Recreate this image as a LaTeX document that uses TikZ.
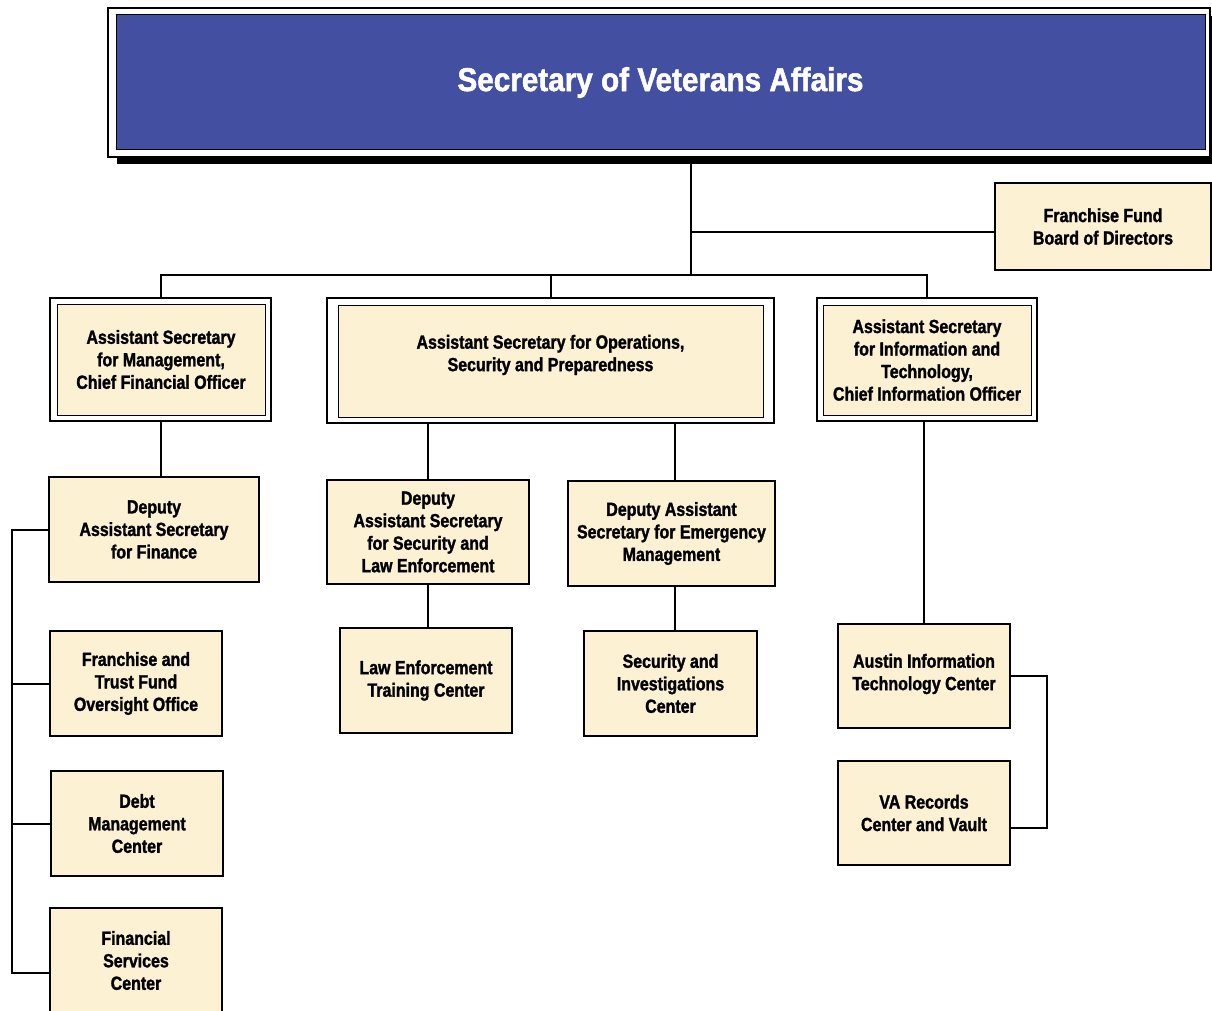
\documentclass[tikz,border=0pt]{standalone}
\usepackage{fontspec}
\setmainfont{Liberation Sans}[FakeStretch=0.84,BoldFeatures={FakeBold=1.5}]
\newfontfamily\titlefont{Liberation Sans}[FakeStretch=0.9,BoldFeatures={FakeBold=1.5}]
\definecolor{vablue}{HTML}{434FA0}
\definecolor{vacream}{HTML}{FDF1D4}
\begin{document}
\begin{tikzpicture}[x=1pt,y=-1pt,
every node/.style={%
line width=1.5pt,
draw,
anchor=center,
inner sep=0pt,
align=center,
font=\fontsize{19}{22.5}\selectfont\bfseries,
},
unit/.style={fill=vacream,minimum height=105pt},
outer/.style={fill=white},
inner/.style={fill=vacream,line width=1pt},
conn/.style={line width=2pt}
]
\useasboundingbox(0,0)rectangle(1212,1011);
\fill(117,16)rectangle(1220,164);
\node[outer,minimum width=1102pt,minimum height=149pt]at(659,82.5)(sec){};
\node[fill=vablue,line width=1pt,minimum width=1089pt,minimum height=135pt,text=white,font=\titlefont\fontsize{33}{36}\selectfont\bfseries]at(660.5,82.5)(sect){Secretary of Veterans Affairs};
\node[unit,minimum width=216pt,minimum height=87pt]at(1103,226.5)(ffb){Franchise Fund\\Board of Directors};
\node[outer,minimum width=221pt,minimum height=123pt]at(160.5,359.5)(asm){};
\node[inner,minimum width=208pt,minimum height=111pt]at(161,359.5)(asmt){Assistant Secretary\\for Management,\\Chief Financial Officer};
\node[outer,line width=2.5pt,minimum width=447pt,minimum height=125pt]at(550.5,360.5)(aso){};
\node[inner,minimum width=425pt,minimum height=112pt]at(550.5,361)(asot){Assistant Secretary for Operations,\\Security and Preparedness\\[-6.5pt]};
\node[outer,minimum width=220pt,minimum height=123pt]at(927,359.5)(asit){};
\node[inner,minimum width=208pt,minimum height=110pt]at(927,360)(asitt){Assistant Secretary\\for Information and\\Technology,\\Chief Information Officer};
\node[unit,minimum width=210pt]at(154,529.5)(dfin){Deputy\\Assistant Secretary\\for Finance};
\node[unit,minimum width=172pt]at(136,683.5)(ftf){Franchise and\\Trust Fund\\Oversight Office};
\node[unit,minimum width=172pt]at(137,823.5)(dmc){Debt\\Management\\Center};
\node[unit,minimum width=172pt]at(136,960.5)(fsc){Financial\\Services\\Center};
\node[unit,minimum width=202pt,minimum height=104pt]at(428,532)(dsle){Deputy\\Assistant Secretary\\for Security and\\Law Enforcement};
\node[unit,minimum width=207pt]at(671.5,533.5)(dem){Deputy Assistant\\Secretary for Emergency\\Management};
\node[unit,minimum width=172pt]at(426,680.5)(letc){Law Enforcement\\Training Center};
\node[unit,minimum width=173pt]at(670.5,683.5)(sic){Security and\\Investigations\\Center};
\node[unit,minimum width=172pt,minimum height=104pt]at(924,676)(aitc){Austin Information\\Technology Center\\[-14.5pt]};
\node[unit,minimum width=172pt,minimum height=104pt]at(924,813)(varc){VA Records\\Center and Vault};
\coordinate(j0)at(691,232);
\coordinate(j1)at(691,275);
\coordinate(lb)at(12,0);
\draw[conn](sec.south-|j1)--(j1);
\draw[conn](j0)--(j0-|ffb.west);
\draw[conn](asm.north)--(asm.north|-j1)-|(asit.north);
\draw[conn](aso.north)--(aso.north|-j1);
\draw[conn](asm.south)--(asm.south|-dfin.north);
\draw[conn](dfin.west)-|(lb|-fsc.188.9)--(fsc.188.9);
\draw[conn](ftf.west)--(ftf.west-|lb);
\draw[conn](dmc.west)--(dmc.west-|lb);
\draw[conn](aso.south-|dsle.north)--(dsle.north);
\draw[conn](aso.south-|675,0)--(dem.north-|675,0);
\draw[conn](dsle.south)--(dsle.south|-letc.north);
\draw[conn](dem.south-|675,0)--(sic.north-|675,0);
\draw[conn](aitc.north|-asit.south)--(aitc.north);
\draw[conn](aitc.east)--++(36,0)|-(varc.-10.5);
\end{tikzpicture}
\end{document}
